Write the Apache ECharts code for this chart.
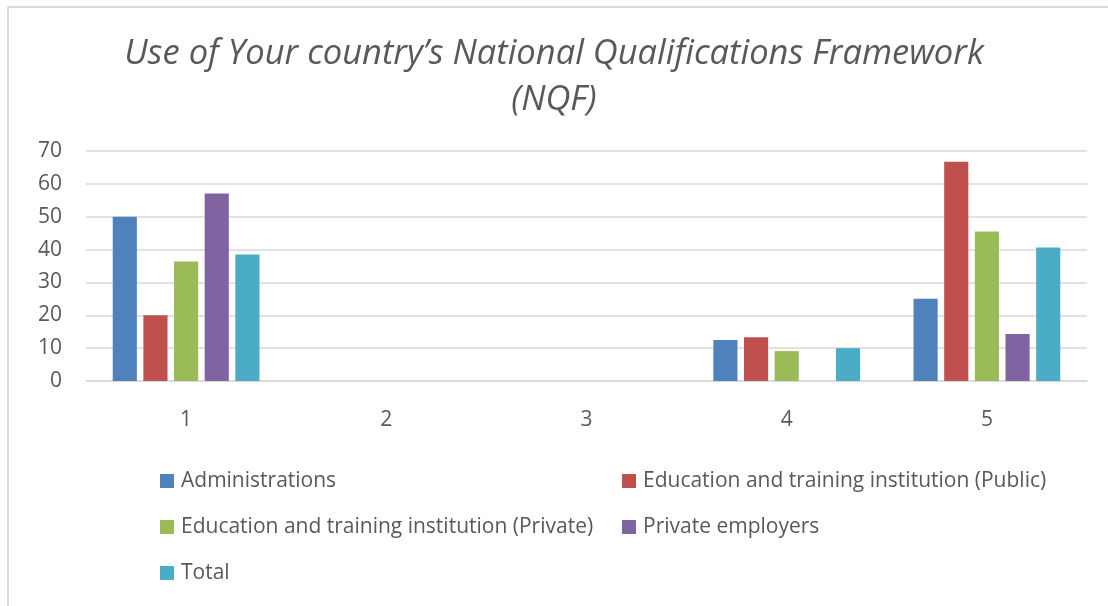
<!DOCTYPE html>
<html>
<head>
<meta charset="utf-8">
<script src="https://cdn.jsdelivr.net/npm/echarts@6/dist/echarts.min.js"></script>
<style>
html,body{margin:0;padding:0;background:#fff;}
#chart{width:1108px;height:606px;}
</style>
</head>
<body>
<div id="chart"></div>
<script>
var categories = ['1', '2', '3', '4', '5'];
var seriesNames = [
  'Administrations',
  'Education and training institution (Public)',
  'Education and training institution (Private)',
  'Private employers',
  'Total'
];
var administrations = [50, 0, 0, 12.5, 25];
var eduPublic = [20, 0, 0, 13.3, 66.7];
var eduPrivate = [36.4, 0, 0, 9.1, 45.5];
var privateEmployers = [57.1, 0, 0, 0, 14.3];
var total = [38.5, 0, 0, 10, 40.6];
var colors = ['#4F81BD', '#C0504D', '#9BBB59', '#8064A2', '#4BACC6'];
var yTicks = [0, 10, 20, 30, 40, 50, 60, 70];

var values = [administrations, eduPublic, eduPrivate, privateEmployers, total];
var font = '"Open Sans", sans-serif';
var textColor = '#595959';

var chart = echarts.init(document.getElementById('chart'), null, {renderer: 'canvas'});
var series = seriesNames.map(function (n, i) {
  return {
    name: n,
    type: 'bar',
    data: values[i],
    barGap: '27%',
    barCategoryGap: '26.7%',
    itemStyle: {color: colors[i]}
  };
});

var legendText = {fontFamily: font, fontSize: 21, color: textColor, lineHeight: 22, padding: [0, 0, 0, 2]};

chart.setOption({
  animation: false,
  color: colors,
  title: {
    text: 'Use of Your country\u2019s National Qualifications Framework\n(NQF)',
    left: 'center',
    top: 31,
    padding: [0, 0, 0, 20],
    textStyle: {
      fontFamily: font,
      fontSize: 34.5,
      fontStyle: 'italic',
      fontWeight: 'normal',
      color: textColor,
      lineHeight: 46
    }
  },
  graphic: [
    {type: 'line', shape: {x1: 8, y1: 7, x2: 1108, y2: 7}, style: {stroke: '#d9d9d9', lineWidth: 2}, z: -10},
    {type: 'line', shape: {x1: 8, y1: 7, x2: 8, y2: 606}, style: {stroke: '#d9d9d9', lineWidth: 2}, z: -10}
  ],
  grid: {left: 86, right: 21, top: 151, bottom: 225, containLabel: false},
  legend: [
    {
      data: [seriesNames[0], seriesNames[2], seriesNames[4]],
      orient: 'vertical',
      left: 160,
      top: 470,
      padding: 0,
      itemGap: 24,
      itemWidth: 14,
      itemHeight: 14,
      icon: 'rect',
      textStyle: legendText
    },
    {
      data: [seriesNames[1], seriesNames[3]],
      orient: 'vertical',
      left: 622,
      top: 470,
      padding: 0,
      itemGap: 24,
      itemWidth: 14,
      itemHeight: 14,
      icon: 'rect',
      textStyle: legendText
    }
  ],
  xAxis: {
    type: 'category',
    data: categories,
    axisTick: {show: false},
    axisLine: {lineStyle: {color: '#d9d9d9', width: 1.5}},
    axisLabel: {fontFamily: font, fontSize: 21, color: textColor, margin: 29}
  },
  yAxis: {
    type: 'value',
    min: yTicks[0],
    max: yTicks[yTicks.length - 1],
    interval: yTicks[1] - yTicks[0],
    axisLine: {show: false},
    axisTick: {show: false},
    splitLine: {lineStyle: {color: '#d9d9d9', width: 1.5}},
    axisLabel: {fontFamily: font, fontSize: 21, color: textColor, margin: 24}
  },
  series: series
});
</script>
</body>
</html>
